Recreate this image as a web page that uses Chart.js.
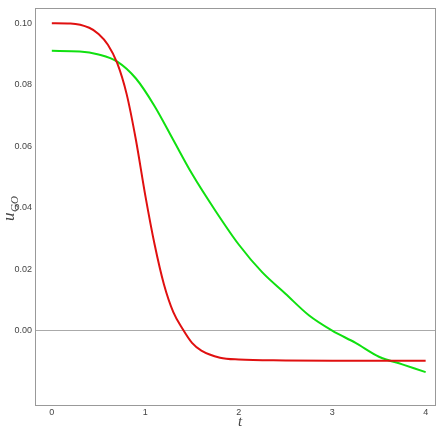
<!DOCTYPE html>
<html>
<head>
<script src="https://cdn.jsdelivr.net/npm/chart.js@4"></script>
<style>
  body { margin: 0; background: #fff; }
  #wrap { width: 436px; height: 431px; }
</style>
</head>
<body>
<div id="wrap"><canvas id="c"></canvas></div>
<script>
// values
const redT = [0, 0.2, 0.4, 0.5, 0.6, 0.7, 0.8, 0.9, 1.0, 1.1, 1.2, 1.3, 1.4, 1.5, 1.6, 1.8, 2.0, 2.5, 3.0, 4.0];
const redU = [0.100, 0.0999, 0.0985, 0.0965, 0.093, 0.087, 0.077, 0.062, 0.044, 0.028, 0.015, 0.006, 0.0005, -0.004, -0.0065, -0.0088, -0.0094, -0.0097, -0.0098, -0.0098];
const greenT = [0, 0.3, 0.5, 0.7, 0.9, 1.1, 1.3, 1.5, 1.75, 2.0, 2.25, 2.5, 2.75, 3.0, 3.25, 3.5, 3.75, 4.0];
const greenU = [0.091, 0.0908, 0.0898, 0.0875, 0.082, 0.073, 0.062, 0.051, 0.039, 0.028, 0.019, 0.012, 0.005, 0.0, -0.004, -0.0085, -0.011, -0.0135];
const xTicks = [0, 1, 2, 3, 4];
const yTicks = [0.00, 0.02, 0.04, 0.06, 0.08, 0.10];

const pts = (t, u) => t.map((v, i) => ({ x: v, y: u[i] }));

const labels = {
  id: 'labels',
  afterDraw(chart) {
    const ctx = chart.ctx;
    ctx.save();
    ctx.fillStyle = '#444';
    ctx.font = 'italic 15px "Liberation Serif"';
    ctx.textAlign = 'center';
    ctx.fillText('t', 240, 426);
    ctx.translate(14, 207);
    ctx.rotate(-Math.PI / 2);
    ctx.textAlign = 'left';
    ctx.font = 'italic 17px "Liberation Serif"';
    ctx.fillText('u', -14, 0);
    ctx.font = 'italic 11px "Liberation Serif"';
    ctx.fillText('GO', -5, 4);
    ctx.restore();
  }
};

new Chart(document.getElementById('c'), {
  type: 'scatter',
  data: {
    datasets: [
      { data: pts(redT, redU), borderColor: '#e01010', borderWidth: 2, showLine: true, pointRadius: 0, cubicInterpolationMode: 'monotone' },
      { data: pts(greenT, greenU), borderColor: '#10e010', borderWidth: 2, showLine: true, pointRadius: 0, cubicInterpolationMode: 'monotone' }
    ]
  },
  options: {
    responsive: true,
    maintainAspectRatio: false,
    animation: false,
    layout: { padding: { top: 5, right: 1, bottom: 0, left: 0 } },
    plugins: { legend: { display: false }, tooltip: { enabled: false } },
    scales: {
      x: {
        type: 'linear', min: -0.18, max: 4.1,
        afterBuildTicks: s => { s.ticks = xTicks.map(v => ({ value: v })); },
        afterFit: s => { s.height = 26; },
        ticks: { color: '#444', font: { size: 9 }, padding: 2 },
        grid: { display: false, drawTicks: false },
        border: { color: '#999' }
      },
      y: {
        type: 'linear', min: -0.0242, max: 0.1048,
        afterBuildTicks: s => { s.ticks = yTicks.map(v => ({ value: v })); },
        afterFit: s => { s.width = 35; },
        ticks: { color: '#444', font: { size: 9 }, padding: 3, callback: v => v.toFixed(2) },
        grid: { drawTicks: false, color: c => c.tick && c.tick.value === 0 ? '#aaa' : 'rgba(0,0,0,0)' },
        border: { color: '#999' }
      },
      x2: { position: 'top', type: 'linear', min: -0.18, max: 4.1, ticks: { display: false }, grid: { display: false, drawTicks: false }, border: { color: '#999' }, afterFit: s => { s.height = 0; } },
      y2: { position: 'right', type: 'linear', ticks: { display: false }, grid: { display: false, drawTicks: false }, border: { color: '#999' }, afterFit: s => { s.width = 0; } }
    }
  },
  plugins: [labels]
});
</script>
</body>
</html>
